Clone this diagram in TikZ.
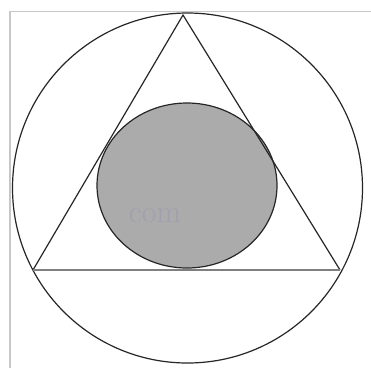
\documentclass[tikz,border=0pt]{standalone}
\usetikzlibrary{shapes.geometric}
\begin{document}
\begin{tikzpicture}[x=1pt,y=-1pt,
  outline/.style={draw=black!85,line width=1.2pt},
  frame/.style={draw=black!22,line width=1.3pt}]
\definecolor{wmcol}{RGB}{160,160,174}
\useasboundingbox (0,0) rectangle (371,368);
\fill[white] (0,0) rectangle (371,368);
\draw[frame] (10,368) -- (10,11.5) -- (371,11.5);
\coordinate (O) at (187.5,188);
\coordinate (A) at (183,15);
\coordinate (B) at (33,270);
\coordinate (C) at (340,270);
\node[outline,circle,minimum size=350pt,inner sep=0pt] (big) at (O) {};
\node[outline,fill=black!33,ellipse,minimum width=180pt,minimum height=165pt,inner sep=0pt] (inc) at (187,185.5) {};
\node[text=wmcol,font=\fontsize{32}{32}\selectfont,inner sep=0pt] (wm) at (155,216) {com};
\draw[outline] (B) -- (A) -- (C);
\draw[draw=black!50,line width=2.2pt] (B) -- (C);
\end{tikzpicture}
\end{document}
